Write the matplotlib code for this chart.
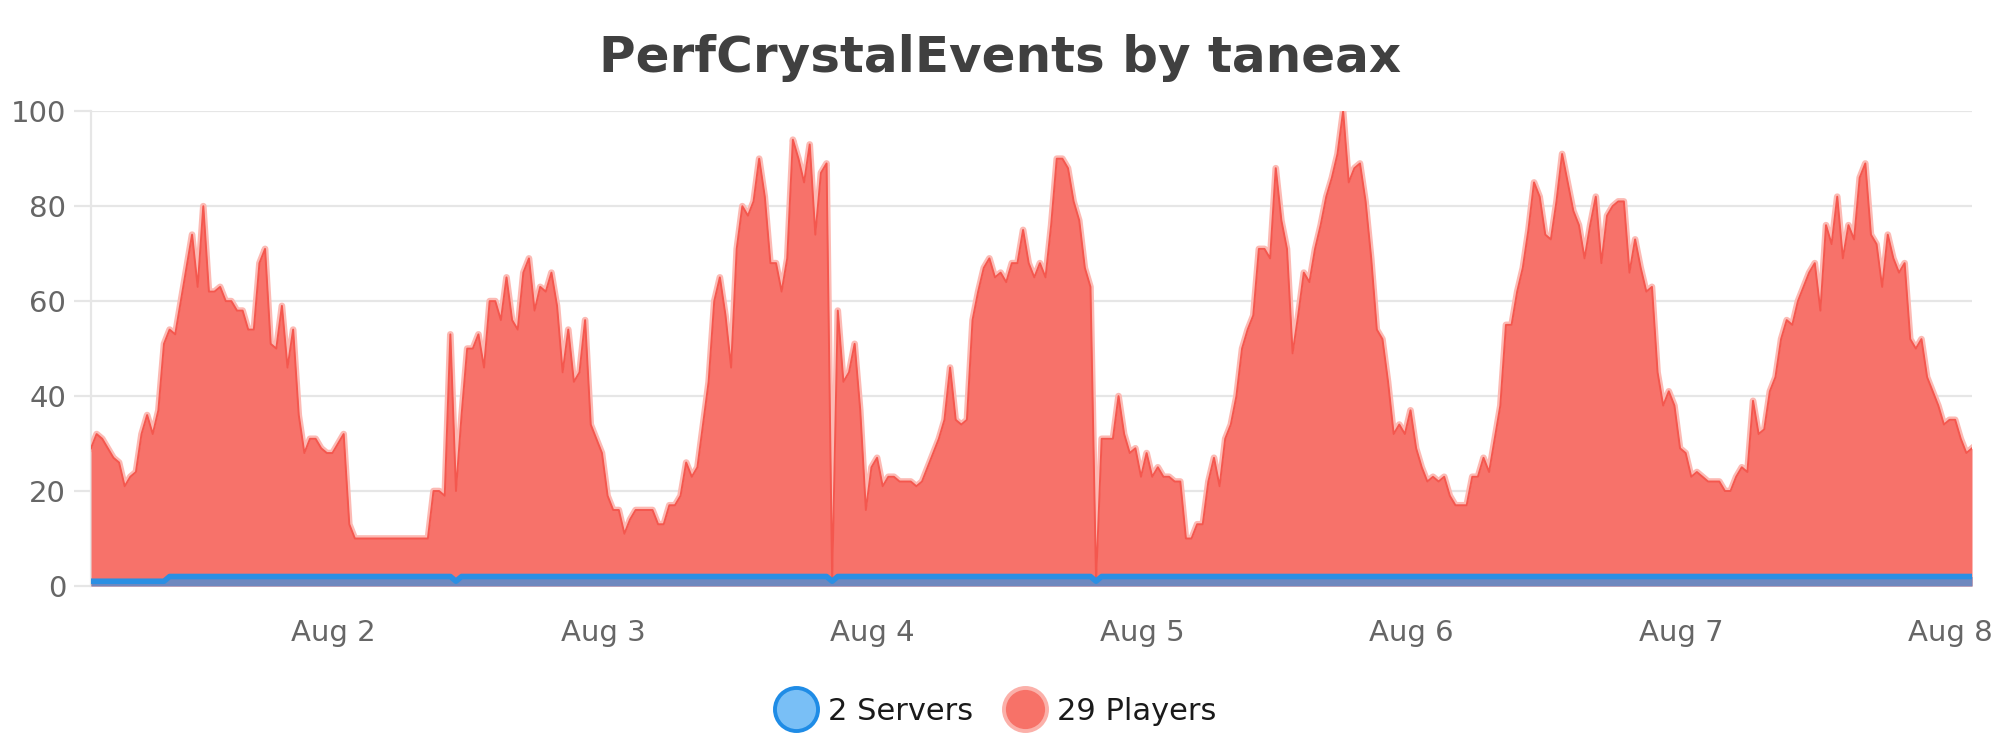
import matplotlib
matplotlib.use("Agg")
import matplotlib.pyplot as plt
import matplotlib.dates as mdates
from matplotlib.lines import Line2D
from datetime import datetime, timedelta

title = "PerfCrystalEvents by taneax"
start = datetime(2023, 8, 1, 2, 24)
step_minutes = 30

players = [
    29, 32, 31, 29, 27, 26, 21, 23, 24, 32,
    36, 32, 37, 51, 54, 53, 60, 67, 74, 63,
    80, 62, 62, 63, 60, 60, 58, 58, 54, 54,
    68, 71, 51, 50, 59, 46, 54, 36, 28, 31,
    31, 29, 28, 28, 30, 32, 13, 10, 10, 10,
    10, 10, 10, 10, 10, 10, 10, 10, 10, 10,
    10, 20, 20, 19, 53, 20, 36, 50, 50, 53,
    46, 60, 60, 56, 65, 56, 54, 66, 69, 58,
    63, 62, 66, 59, 45, 54, 43, 45, 56, 34,
    31, 28, 19, 16, 16, 11, 14, 16, 16, 16,
    16, 13, 13, 17, 17, 19, 26, 23, 25, 34,
    43, 60, 65, 57, 46, 71, 80, 78, 81, 90,
    82, 68, 68, 62, 69, 94, 90, 85, 93, 74,
    87, 89, 1, 58, 43, 45, 51, 37, 16, 25,
    27, 21, 23, 23, 22, 22, 22, 21, 22, 25,
    28, 31, 35, 46, 35, 34, 35, 56, 62, 67,
    69, 65, 66, 64, 68, 68, 75, 68, 65, 68,
    65, 76, 90, 90, 88, 81, 77, 67, 63, 1,
    31, 31, 31, 40, 32, 28, 29, 23, 28, 23,
    25, 23, 23, 22, 22, 10, 10, 13, 13, 22,
    27, 21, 31, 34, 40, 50, 54, 57, 71, 71,
    69, 88, 77, 71, 49, 57, 66, 64, 71, 76,
    82, 86, 91, 100, 85, 88, 89, 81, 69, 54,
    52, 43, 32, 34, 32, 37, 29, 25, 22, 23,
    22, 23, 19, 17, 17, 17, 23, 23, 27, 24,
    31, 38, 55, 55, 62, 67, 75, 85, 82, 74,
    73, 81, 91, 85, 79, 76, 69, 76, 82, 68,
    78, 80, 81, 81, 66, 73, 67, 62, 63, 45,
    38, 41, 38, 29, 28, 23, 24, 23, 22, 22,
    22, 20, 20, 23, 25, 24, 39, 32, 33, 41,
    44, 52, 56, 55, 60, 63, 66, 68, 58, 76,
    72, 82, 69, 76, 73, 86, 89, 74, 72, 63,
    74, 69, 66, 68, 52, 50, 52, 44, 41, 38,
    34, 35, 35, 31, 28, 29,
]

# server count vertices (half-hour sample index, value)
server_idx = [0, 13, 14, 64, 65, 66, 131, 132, 133, 178, 179, 180, 335]
server_val = [1, 1, 2, 2, 1, 2, 2, 1, 2, 2, 1, 2, 2]

legend_labels = ["2 Servers", "29 Players"]
y_ticks = [0, 20, 40, 60, 80, 100]
x_tick_days = [2, 3, 4, 5, 6, 7, 8]

t_players = mdates.date2num([start + timedelta(minutes=step_minutes * i) for i in range(len(players))])
t_servers = mdates.date2num([start + timedelta(minutes=step_minutes * i) for i in server_idx])

fig = plt.figure(figsize=(20, 7.5), dpi=100)
ax = fig.add_axes([0.0455, 0.2187, 0.9405, 0.633])

red_fill = "#f7726a"
ax.plot(t_players, players, color="#fcbab4", lw=4.8, zorder=2)
ax.fill_between(t_players, 0, players, color=red_fill, lw=0, zorder=3)
ax.plot(t_players, players, color="#f4574e", lw=1.4, zorder=4)

ax.fill_between(t_servers, 0, server_val, color="#6e88bf", lw=0, zorder=5)
ax.plot(t_servers, server_val, color="#2b8fe3", lw=4.0, zorder=6)

ax.set_ylim(0, 100)
ax.set_xlim(t_players[0], t_players[-1])
ax.set_yticks(y_ticks)
ax.grid(axis="y", color="#e6e6e6", lw=1.6, zorder=0)
ax.set_axisbelow(True)

for s in ["top", "right", "bottom"]:
    ax.spines[s].set_visible(False)
ax.spines["left"].set_color("#e6e6e6")
ax.spines["left"].set_linewidth(1.6)
ax.spines["left"].set_zorder(1)

ax.set_xticks(mdates.date2num([datetime(2023, 8, d) for d in x_tick_days]))
ax.set_xticklabels([f"Aug {d}" for d in x_tick_days])
ax.tick_params(axis="x", length=0, pad=24, labelsize=21, labelcolor="#666666")
ax.tick_params(axis="y", length=12, width=1.6, color="#e6e6e6", pad=6,
               labelsize=21, labelcolor="#666666")

fig.text(0.5, 0.922, title, ha="center", va="center", fontsize=36,
         fontweight="bold", color="#404040")

handles = [
    Line2D([], [], linestyle="", marker="o", markersize=31,
           markerfacecolor="#79bff6", markeredgecolor="#1f8ce6", markeredgewidth=2.8),
    Line2D([], [], linestyle="", marker="o", markersize=31,
           markerfacecolor="#f77268", markeredgecolor="#fbb0a9", markeredgewidth=2.8),
]
fig.legend(handles, legend_labels, loc="center", bbox_to_anchor=(0.4985, 0.052),
           ncol=2, frameon=False, fontsize=22, handletextpad=0.45,
           columnspacing=1.1, handlelength=1.2, labelcolor="#1a1a1a")

fig.savefig("out.png", dpi=100)
